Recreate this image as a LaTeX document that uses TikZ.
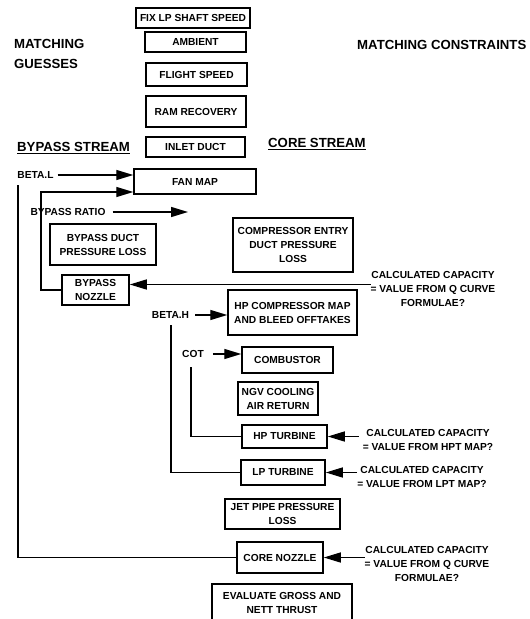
\documentclass[tikz,border=0pt]{standalone}
\usepackage{fontspec}
\setmainfont{Liberation Sans}
\usetikzlibrary{arrows.meta}
\newcommand{\diagfont}{\fontsize{10.2}{14}\selectfont\bfseries}
\newcommand{\headfont}{\fontsize{13.2}{20}\selectfont\bfseries}
\tikzset{
  box/.style={draw,line width=1.5pt,inner sep=1pt,align=center,font=\diagfont},
  lbl/.style={inner sep=0pt,align=center,font=\diagfont},
  head/.style={inner sep=0pt,align=left,font=\headfont},
  flow/.style={line width=1.4pt,-{Triangle[length=17pt,width=10pt]}},
  link/.style={line width=1.4pt},
}
\begin{document}
\begin{tikzpicture}[x=1pt,y=-1pt]
  \useasboundingbox (0,0) rectangle (530,619);
  % headings
  \node[head,anchor=west] (guesses) at (14,54) {MATCHING\\GUESSES};
  \node[head,anchor=west] (constraints) at (357,45) {MATCHING CONSTRAINTS};
  \node[head,anchor=base west] (bpstream) at (17,151.7) {\underline{BYPASS STREAM}};
  \node[head,anchor=base west] (corestream) at (268,147.7) {\underline{CORE STREAM}};
  % common chain
  \node[box,minimum width=114pt,minimum height=20pt] (fixlp) at (193,18) {FIX LP SHAFT SPEED};
  \node[box,minimum width=101pt,minimum height=20pt] (ambient) at (195.5,42) {AMBIENT};
  \node[box,minimum width=101pt,minimum height=23pt] (flight) at (196.5,74.5) {FLIGHT SPEED};
  \node[box,minimum width=100pt,minimum height=31pt] (ram) at (196,111.5) {RAM RECOVERY};
  \node[box,minimum width=99pt,minimum height=20pt] (inlet) at (195.5,147) {INLET DUCT};
  \node[box,minimum width=122pt,minimum height=25pt] (fan) at (195,181.5) {FAN MAP};
  % bypass stream
  \node[box,minimum width=106pt,minimum height=41pt] (bpduct) at (103,244.5) {BYPASS DUCT\\PRESSURE LOSS};
  \node[box,minimum width=67pt,minimum height=30pt] (bpnoz) at (95.5,290) {BYPASS\\NOZZLE};
  % core stream
  \node[box,minimum width=120pt,minimum height=54pt] (ced) at (293,245) {COMPRESSOR ENTRY\\DUCT PRESSURE\\LOSS};
  \node[box,minimum width=129pt,minimum height=45pt] (hpc) at (292.5,312.5) {HP COMPRESSOR MAP\\AND BLEED OFFTAKES};
  \node[box,minimum width=91pt,minimum height=26pt] (comb) at (287.5,360) {COMBUSTOR};
  \node[box,minimum width=80pt,minimum height=33pt] (ngv) at (278,398.5) {NGV COOLING\\AIR RETURN};
  \node[box,minimum width=85pt,minimum height=23pt] (hpt) at (284.5,436.5) {HP TURBINE};
  \node[box,minimum width=84pt,minimum height=25pt] (lpt) at (283,472.5) {LP TURBINE};
  \node[box,minimum width=115pt,minimum height=30pt] (jpp) at (282.5,514) {JET PIPE PRESSURE\\LOSS};
  \node[box,minimum width=86pt,minimum height=31pt] (corenoz) at (280,557.5) {CORE NOZZLE};
  \node[box,minimum width=140pt,minimum height=37pt] (thrust) at (282,602.5) {EVALUATE GROSS AND\\NETT THRUST};
  % guesses and constraints
  \node[lbl] (betal) at (35.5,175) {BETA.L};
  \node[lbl] (bpratio) at (68,212) {BYPASS RATIO};
  \node[lbl] (betah) at (170.5,315) {BETA.H};
  \node[lbl] (cot) at (193,354) {COT};
  \node[lbl] (capbpn) at (433,288.5) {CALCULATED CAPACITY\\= VALUE FROM Q CURVE\\FORMULAE?};
  \node[lbl] (caphpt) at (428,439.5) {CALCULATED CAPACITY\\= VALUE FROM HPT MAP?};
  \node[lbl] (caplpt) at (422,477) {CALCULATED CAPACITY\\= VALUE FROM LPT MAP?};
  \node[lbl] (capcn) at (427,563.5) {CALCULATED CAPACITY\\= VALUE FROM Q CURVE\\FORMULAE?};
  % connectors
  \coordinate (bploop) at (41,192);
  \coordinate (bpratioend) at (188,212);
  \coordinate (betaldrop) at (18,185);
  \coordinate (betahdrop) at (171,325);
  \coordinate (cotdrop) at (191,367);
  \draw[flow] ([xshift=4pt]betal.east) -- (betal -| fan.west);
  \draw[flow] (bpnoz.west) -| (bploop) -- (bploop -| fan.west);
  \draw[flow] ([xshift=7pt]bpratio.east) -- (bpratioend);
  \draw[flow] ([xshift=6pt]betah.east) -- (betah -| hpc.west);
  \draw[flow] ([xshift=9pt]cot.east) -- (cot -| comb.west);
  \draw[link] (betaldrop) |- (corenoz.west);
  \draw[link] (betahdrop) |- (lpt.west);
  \draw[link] (cotdrop) |- (hpt.west);
  \draw[flow] ([yshift=4pt]capbpn.west) -- ([yshift=4pt]capbpn.west -| bpnoz.east);
  \draw[flow] ([xshift=-4pt]caphpt.west |- hpt.east) -- (hpt.east);
  \draw[flow] (caplpt.west |- lpt.east) -- (lpt.east);
  \draw[flow] (capcn.west |- corenoz.east) -- (corenoz.east);
\end{tikzpicture}
\end{document}
